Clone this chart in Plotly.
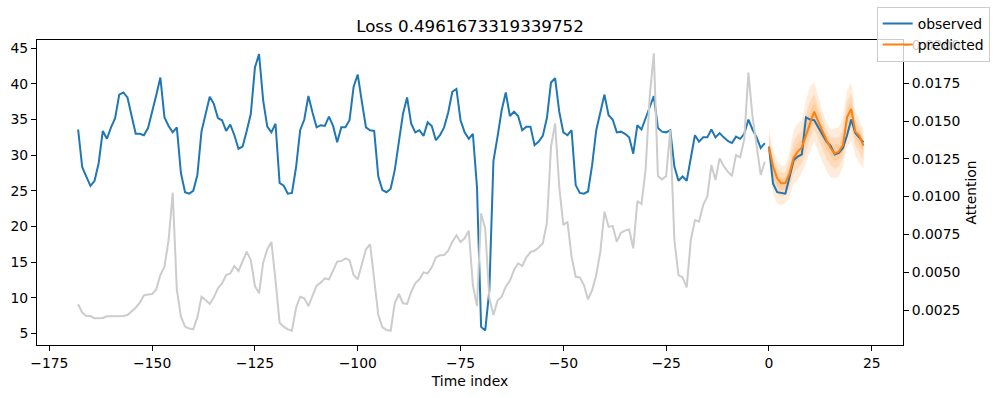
import plotly.graph_objects as go

# ---------------- data ----------------
title_text = "Loss 0.4961673319339752"
enc_start = -168
dec_len = 24

obs_encoder = [
    33.6, 28.3, 27.0, 25.7, 26.4, 28.9, 33.4, 32.3, 33.9, 35.2,
    38.5, 38.8, 38.1, 35.5, 33.0, 33.0, 32.8, 33.8, 36.0, 38.4,
    40.9, 35.3, 34.1, 33.2, 33.9, 27.5, 24.8, 24.6, 25.0, 27.2,
    33.3, 35.6, 38.2, 37.2, 35.2, 34.9, 33.4, 34.3, 32.8, 30.9,
    31.2, 33.4, 35.8, 42.3, 44.2, 37.7, 34.0, 33.2, 34.4, 26.1,
    25.7, 24.6, 24.7, 28.3, 33.5, 35.0, 38.3, 36.0, 33.9, 34.2,
    34.1, 35.4, 34.1, 31.8, 33.9, 33.9, 34.9, 39.6, 41.3, 37.5,
    33.9, 33.5, 33.4, 27.0, 25.1, 24.8, 25.3, 27.9, 32.1, 35.8,
    38.1, 34.4, 33.2, 33.5, 32.7, 34.6, 34.1, 32.1, 32.8, 33.9,
    36.0, 38.9, 39.3, 34.9, 33.2, 32.3, 33.0, 25.5, 5.9, 5.4,
    11.0, 29.2, 32.6, 36.3, 38.8, 35.5, 36.1, 35.5, 33.5, 34.0,
    34.0, 31.4, 31.9, 32.7, 35.2, 40.2, 40.8, 36.1, 33.2, 32.8,
    33.5, 25.8, 24.7, 24.6, 24.9, 28.6, 33.5, 36.1, 38.5, 35.6,
    35.0, 33.2, 33.3, 33.0, 32.5, 30.2, 34.2, 33.6, 35.2, 37.0,
    38.3, 33.8, 33.3, 33.2, 33.5, 28.4, 26.4, 27.0, 26.4, 29.6,
    32.8, 31.9, 32.5, 32.5, 33.6, 32.5, 33.1, 32.5, 32.0, 31.7,
    32.6, 32.3, 33.0, 35.0, 33.6, 32.5, 31.0, 31.7,
]

attention = [
    0.00288, 0.00233, 0.00210, 0.00210, 0.00195, 0.00195, 0.00197, 0.00208, 0.00208, 0.00210,
    0.00208, 0.00210, 0.00217, 0.00239, 0.00265, 0.00298, 0.00347, 0.00353, 0.00356, 0.00387,
    0.00481, 0.00536, 0.00713, 0.01026, 0.00387, 0.00206, 0.00140, 0.00127, 0.00122, 0.00201,
    0.00338, 0.00316, 0.00290, 0.00334, 0.00393, 0.00426, 0.00481, 0.00492, 0.00541, 0.00508,
    0.00576, 0.00636, 0.00580, 0.00409, 0.00360, 0.00563, 0.00651, 0.00700, 0.00448, 0.00166,
    0.00140, 0.00122, 0.00113, 0.00265, 0.00338, 0.00327, 0.00276, 0.00338, 0.00411, 0.00431,
    0.00459, 0.00453, 0.00508, 0.00570, 0.00574, 0.00592, 0.00580, 0.00481, 0.00453, 0.00547,
    0.00651, 0.00686, 0.00448, 0.00217, 0.00135, 0.00118, 0.00113, 0.00294, 0.00356, 0.00294,
    0.00290, 0.00371, 0.00426, 0.00453, 0.00499, 0.00492, 0.00532, 0.00598, 0.00612, 0.00614,
    0.00642, 0.00702, 0.00744, 0.00700, 0.00724, 0.00775, 0.00415, 0.00276, 0.00889, 0.00790,
    0.00327, 0.00217, 0.00312, 0.00338, 0.00404, 0.00444, 0.00514, 0.00559, 0.00541, 0.00598,
    0.00633, 0.00642, 0.00664, 0.00691, 0.00827, 0.01330, 0.01484, 0.01066, 0.00812, 0.00834,
    0.00603, 0.00470, 0.00466, 0.00415, 0.00320, 0.00382, 0.00481, 0.00636, 0.00900, 0.00801,
    0.00805, 0.00702, 0.00761, 0.00775, 0.00783, 0.00658, 0.00971, 0.00951, 0.01176, 0.01661,
    0.01948, 0.01136, 0.01114, 0.01136, 0.01440, 0.00713, 0.00481, 0.00466, 0.00400, 0.00713,
    0.00845, 0.00834, 0.00944, 0.01000, 0.01209, 0.01110, 0.01253, 0.01202, 0.01165, 0.01136,
    0.01275, 0.01260, 0.01379, 0.01820, 0.01530, 0.01330, 0.01143, 0.01231,
]

obs_decoder = [
    31.2, 26.0, 24.8, 24.7, 24.6, 26.9, 29.3, 29.8, 30.1, 35.3,
    35.0, 34.9, 33.9, 32.8, 31.9, 31.3, 30.1, 30.3, 31.0, 32.8,
    35.0, 33.1, 32.4, 31.8,
]

predicted = [
    31.1, 28.4, 26.75, 26.05, 26.1, 27.45, 29.6, 30.5, 31.1, 32.8,
    34.7, 36.1, 34.7, 33.3, 32.1, 31.0, 30.2, 30.5, 31.4, 35.3,
    36.5, 33.3, 32.7, 31.3,
]

q02 = [29.3, 24.6, 23.2, 23.0, 23.2, 24.2, 26.0, 26.5, 27.5, 28.9,
       30.7, 31.9, 30.5, 29.1, 27.7, 26.9, 26.75, 27.0, 28.4, 31.2,
       32.1, 30.0, 28.85, 28.15]
q98 = [33.8, 30.7, 29.2, 28.5, 28.6, 30.5, 33.5, 34.5, 34.9, 37.7,
       39.6, 40.3, 38.2, 36.1, 34.5, 33.6, 33.8, 33.9, 35.4, 39.15,
       40.2, 36.1, 34.9, 33.5]
q10 = [29.9, 26.1, 24.6, 24.2, 24.4, 25.5, 27.4, 28.1, 28.9, 30.4,
       32.3, 33.6, 32.4, 30.8, 29.5, 28.6, 28.1, 28.4, 29.6, 32.9,
       33.9, 31.3, 30.4, 29.2]
q90 = [32.7, 29.8, 28.2, 27.5, 27.6, 29.3, 31.9, 32.9, 33.4, 35.8,
       37.6, 38.6, 36.8, 35.0, 33.5, 32.6, 32.4, 32.5, 33.8, 37.6,
       38.7, 35.0, 34.0, 32.6]
q25 = [30.4, 27.3, 25.7, 25.1, 25.2, 26.5, 28.5, 29.3, 30.0, 31.6,
       33.5, 34.8, 33.5, 32.0, 30.8, 29.8, 29.2, 29.5, 30.5, 34.1,
       35.2, 32.3, 31.5, 30.3]
q75 = [31.9, 29.1, 27.5, 26.8, 26.9, 28.4, 30.8, 31.7, 32.2, 34.3,
       36.2, 37.4, 35.8, 34.1, 32.8, 31.8, 31.3, 31.5, 32.6, 36.5,
       37.6, 34.1, 33.4, 31.9]

x_encoder = list(range(enc_start, 0))
x_decoder = list(range(0, dec_len))

# ---------------- style ----------------
BLUE = "#1f77b4"
ORANGE = "#ff7f0e"
BAND = "rgba(255,127,14,0.15)"
GREY = "#cccccc"
FONT = "DejaVu Sans"

fig = go.Figure()

# quantile bands (drawn first, lines on top)
for lo, hi in [(q02, q98), (q10, q90), (q25, q75)]:
    fig.add_trace(go.Scatter(x=x_decoder, y=lo, mode="lines", line=dict(width=0),
                             showlegend=False, hoverinfo="skip"))
    fig.add_trace(go.Scatter(x=x_decoder, y=hi, mode="lines", line=dict(width=0),
                             fill="tonexty", fillcolor=BAND, showlegend=False,
                             hoverinfo="skip"))

fig.add_trace(go.Scatter(x=x_encoder, y=obs_encoder, mode="lines", name="observed",
                         line=dict(color=BLUE, width=2)))
fig.add_trace(go.Scatter(x=x_decoder, y=obs_decoder, mode="lines", showlegend=False,
                         line=dict(color=BLUE, width=2)))
fig.add_trace(go.Scatter(x=x_decoder, y=predicted, mode="lines", name="predicted",
                         line=dict(color=ORANGE, width=2)))

fig.add_trace(go.Scatter(x=x_encoder, y=attention, mode="lines", showlegend=False,
                         line=dict(color=GREY, width=2), yaxis="y2"))

axis_common = dict(
    showgrid=False, zeroline=False, automargin=False,
    ticks="outside", ticklen=5, tickwidth=1, tickcolor="black",
    tickfont=dict(family=FONT, size=13.9, color="black"),
)

fig.update_layout(
    width=998, height=398,
    margin=dict(l=37, r=95, t=40, b=53, autoexpand=False),
    paper_bgcolor="white", plot_bgcolor="white",
    font=dict(family=FONT, color="black"),
    title=dict(text=title_text, x=0.5, xref="paper", xanchor="center",
               y=1 - 26 / 398, yref="container", yanchor="middle",
               font=dict(family=FONT, size=16.7, color="black")),
    xaxis=dict(range=[-178.0, 32.6], tick0=-175, dtick=25, mirror=True,
               showline=True, linecolor="black", linewidth=1,
               title=dict(text="Time index", font=dict(family=FONT, size=13.9),
                          standoff=6),
               **axis_common),
    yaxis=dict(range=[3.36, 46.16], tick0=5, dtick=5, mirror=True,
               showline=True, linecolor="black", linewidth=1, **axis_common),
    yaxis2=dict(range=[0.000185, 0.02036], overlaying="y", side="right",
                tickvals=[0.0025, 0.005, 0.0075, 0.01, 0.0125, 0.015, 0.0175, 0.02],
                tickformat=".4f", showline=False,
                **axis_common),
    legend=dict(x=0.9917, xref="container", xanchor="right",
                y=1 - 7 / 398, yref="container", yanchor="top",
                traceorder="normal",
                bgcolor="rgba(255,255,255,0.8)", bordercolor="#cccccc", borderwidth=1,
                font=dict(family=FONT, size=13.9, color="black"),
                itemwidth=30, tracegroupgap=0),
    annotations=[dict(text="Attention", x=(970 - 37) / 866, xref="paper",
                      y=0.5, yref="paper", textangle=-90, showarrow=False,
                      xanchor="center", yanchor="middle",
                      font=dict(family=FONT, size=13.9, color="black"))],
    showlegend=True,
)

fig.write_html("out.html", config={"displayModeBar": False},
               post_script="document.body.style.margin='0px';")
